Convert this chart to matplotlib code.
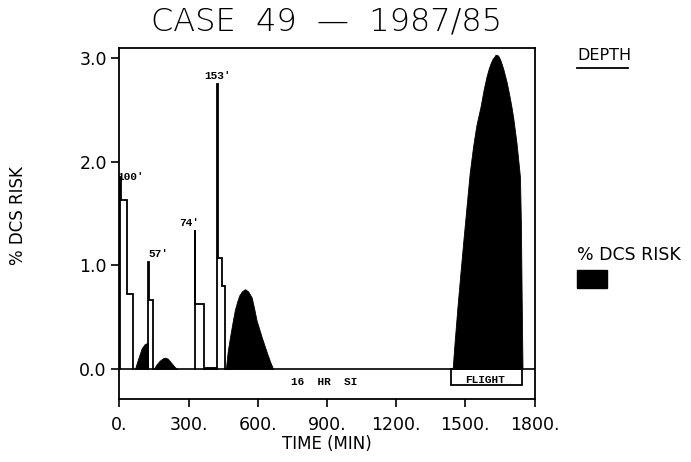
import numpy as np
import matplotlib
matplotlib.use("Agg")
import matplotlib.pyplot as plt
from matplotlib.patches import Rectangle
from matplotlib.lines import Line2D

# dive depth profiles, drawn on the risk scale (time in min)
dive_labels = ["100'", "57'", "74'", "153'"]
dive_times = [
    [5, 9, 32, 61],
    [125, 128, 144],
    [327, 330, 367],
    [425, 428, 447, 457],
]
dive_levels = [
    [1.85, 1.63, 0.72],
    [1.03, 0.67],
    [1.34, 0.63],
    [2.75, 1.07, 0.80],
]

# flight leg (shown below the surface line)
flight_start = 1440
flight_end = 1744
flight_level = -0.15

# % DCS risk curves
risk_times = [
    [68, 76, 85, 97, 110, 120, 124, 125],
    [150, 160, 175, 190, 198, 210, 225, 240, 251],
    [367, 372, 420, 425],
    [462, 470, 480, 491, 501, 511, 520, 532, 545, 558, 574, 585, 595,
     606, 617, 629, 641, 654, 667],
    [1445, 1454, 1466, 1479, 1492, 1505, 1519, 1534, 1548, 1566, 1580,
     1592, 1602, 1610, 1618, 1625, 1631, 1637, 1643, 1650, 1658, 1665,
     1672, 1680, 1690, 1700, 1708, 1715, 1722, 1728, 1733, 1737, 1741,
     1744, 1748],
]
risk_values = [
    [0, 0.06, 0.12, 0.20, 0.24, 0.25, 0.25, 0],
    [0, 0.04, 0.08, 0.105, 0.11, 0.10, 0.06, 0.02, 0],
    [0, 0.02, 0.02, 0],
    [0, 0.17, 0.31, 0.45, 0.57, 0.65, 0.71, 0.75, 0.77, 0.75, 0.69,
     0.58, 0.47, 0.39, 0.31, 0.23, 0.15, 0.07, 0],
    [0, 0.27, 0.60, 0.93, 1.25, 1.56, 1.89, 2.15, 2.35, 2.53, 2.70,
     2.82, 2.90, 2.95, 2.99, 3.01, 3.03, 3.03, 3.02, 2.99, 2.94, 2.89,
     2.83, 2.76, 2.65, 2.53, 2.42, 2.30, 2.18, 2.05, 1.94, 1.85, 1.40,
     0.76, 0],
]

x_ticks = [0, 300, 600, 900, 1200, 1500, 1800]
y_ticks = [0.0, 1.0, 2.0, 3.0]

W, H = 691, 462
fig = plt.figure(figsize=(W / 100, H / 100), dpi=100)
ax = fig.add_axes([119.3 / W, (H - 399) / H, (534.5 - 119.3) / W, (399 - 48) / H])

# risk fills
for t, v in zip(risk_times, risk_values):
    ax.fill_between(t, 0, v, color="black", lw=0.6, edgecolor="black")

# surface line
ax.axhline(0, color="black", lw=1.2)

# depth outlines
for times, levels in zip(dive_times, dive_levels):
    xs = [times[0]]
    ys = [0]
    for i, lev in enumerate(levels):
        xs += [times[i], times[i + 1]]
        ys += [lev, lev]
    xs.append(times[-1])
    ys.append(0)
    ax.plot(xs, ys, color="black", lw=1.3, solid_joinstyle="miter")

# dive labels
label_ha = ["left", "left", "right", "center"]
label_off = [(-2, 0), (0, 6), (3, 5), (0, 6)]
mono = dict(family="Liberation Mono", weight="bold", fontsize=8)
for lab, times, levels, ha, off in zip(dive_labels, dive_times, dive_levels,
                                       label_ha, label_off):
    ax.annotate(lab, (times[0], levels[0]), xytext=off, textcoords="offset points",
                ha=ha, va="center", **mono)

# flight box
ax.add_patch(Rectangle((flight_start, flight_level), flight_end - flight_start,
                       -flight_level, fill=False, ec="black", lw=1.3))
ax.text((flight_start + flight_end) / 2 - 5, flight_level / 2 - 0.03, "FLIGHT",
        ha="center", va="center", **mono)
ax.text(886, -0.125, "16  HR  SI", ha="center", va="center", **mono)

ax.set_xlim(0, 1800)
ax.set_ylim(-0.289, 3.096)
ax.set_xticks(x_ticks)
ax.set_xticklabels([f"{v}." for v in x_ticks])
ax.set_yticks(y_ticks)
ax.set_yticklabels([f"{v:.1f}" for v in y_ticks])
ax.tick_params(direction="out", length=6, width=1.2, labelsize=12.5, pad=3)
ax.tick_params(axis="x", pad=6)
for s in ax.spines.values():
    s.set_linewidth(1.3)

fig.text(327 / W, 1 - 22 / H, "CASE  49  \u2014  1987/85", ha="center", va="center",
         fontsize=23, fontweight="light")
fig.text(327 / W, 1 - 444 / H, "TIME (MIN)", ha="center", va="center", fontsize=12)
fig.text(18 / W, 1 - 216 / H, "% DCS RISK", rotation=90, ha="center", va="center",
         fontsize=12)

# right side key
fig.text(577 / W, 1 - 55 / H, "DEPTH", ha="left", va="center", fontsize=11.5)
fig.add_artist(Line2D([577 / W, 628 / W], [1 - 68 / H, 1 - 68 / H], color="black", lw=1.3))
fig.text(577 / W, 1 - 255 / H, "% DCS RISK", ha="left", va="center", fontsize=12.5)
fig.add_artist(Rectangle((577 / W, 1 - 288 / H), 30 / W, 18 / H, color="black"))

fig.savefig("out.png", dpi=100)
